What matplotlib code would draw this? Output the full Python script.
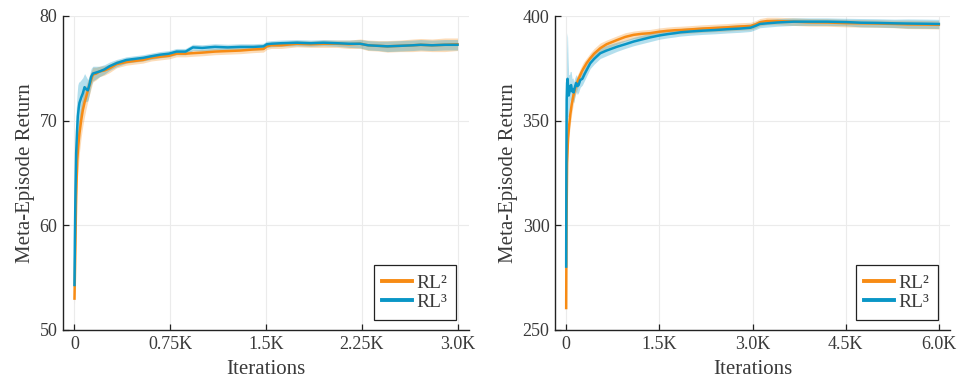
import matplotlib
matplotlib.use("Agg")
import matplotlib.pyplot as plt
import numpy as np

plt.rcParams['font.family'] = ['Liberation Serif', 'DejaVu Serif']

ORANGE = '#F78B14'
BLUE = '#0996C6'
TXT = '#3a3a3a'

# ---------------- Left panel data ----------------
left_xticks = [0, 750, 1500, 2250, 3000]
left_xticklabels = ['0', '0.75K', '1.5K', '2.25K', '3.0K']
left_yticks = [50, 60, 70, 80]

l_rl2_x = [0, 5, 13, 21, 31, 39, 52, 65, 80, 92, 105, 118, 131, 144, 170, 196, 235, 275, 330, 406,
           470, 537, 600, 668, 740, 799, 870, 927, 1000, 1100, 1200, 1300, 1400, 1480, 1506, 1540,
           1620, 1741, 1850, 1950, 2055, 2150, 2238, 2300, 2380, 2450, 2550, 2650, 2711, 2800, 2900, 3000]
l_rl2_y = [53.0, 56.5, 62.7, 66.2, 67.8, 68.8, 70.0, 71.0, 71.8, 72.3, 72.9, 73.4, 73.9, 74.4, 74.5, 74.7, 74.8, 75.0, 75.4, 75.6,
           75.7, 75.8, 76.0, 76.1, 76.2, 76.4, 76.4, 76.45, 76.5, 76.6, 76.65, 76.7, 76.8, 76.85, 77.1, 77.2,
           77.2, 77.35, 77.3, 77.35, 77.35, 77.3, 77.35, 77.2, 77.15, 77.1, 77.15, 77.2, 77.25, 77.2, 77.25, 77.3]
l_rl2_s = [0.5, 1.5, 2.0, 2.0, 2.0, 1.8, 1.6, 1.5, 1.3, 1.1, 1.0, 0.9, 0.8, 0.7, 0.6, 0.5, 0.45, 0.4, 0.35, 0.3,
           0.3, 0.3, 0.3, 0.3, 0.3, 0.3, 0.3, 0.3, 0.3, 0.3, 0.3, 0.3, 0.3, 0.3, 0.3, 0.3,
           0.3, 0.3, 0.3, 0.35, 0.35, 0.4, 0.45, 0.5, 0.5, 0.55, 0.55, 0.6, 0.6, 0.6, 0.65, 0.6]

l_rl3_x = [0, 3, 8, 13, 20, 26, 33, 39, 52, 65, 79, 92, 105, 118, 131, 144, 170, 196, 235, 275, 330, 406,
           470, 537, 600, 668, 740, 799, 870, 927, 1000, 1100, 1200, 1300, 1400, 1480, 1506, 1540, 1620,
           1741, 1850, 1950, 2055, 2150, 2238, 2300, 2380, 2450, 2550, 2650, 2711, 2800, 2900, 3000]
l_rl3_y = [54.3, 58.5, 63.5, 66.9, 69.0, 70.4, 71.2, 71.7, 72.2, 72.6, 73.2, 73.0, 72.9, 73.5, 74.2, 74.5, 74.6, 74.7, 74.9, 75.2, 75.5, 75.8,
           75.9, 76.0, 76.15, 76.3, 76.4, 76.6, 76.6, 77.0, 76.95, 77.05, 77.0, 77.05, 77.05, 77.1, 77.3, 77.35, 77.4,
           77.45, 77.4, 77.45, 77.4, 77.35, 77.35, 77.2, 77.15, 77.1, 77.15, 77.2, 77.25, 77.2, 77.25, 77.25]
l_rl3_s = [0.5, 2.0, 3.5, 4.0, 3.5, 3.0, 2.5, 2.0, 1.7, 1.5, 1.3, 1.2, 1.0, 0.9, 0.8, 0.7, 0.6, 0.5, 0.45, 0.4, 0.35, 0.3,
           0.3, 0.3, 0.3, 0.3, 0.3, 0.3, 0.3, 0.3, 0.3, 0.3, 0.3, 0.3, 0.3, 0.3, 0.3, 0.3, 0.3,
           0.3, 0.3, 0.3, 0.3, 0.35, 0.4, 0.45, 0.45, 0.5, 0.5, 0.5, 0.5, 0.5, 0.5, 0.5]

# ---------------- Right panel data ----------------
right_xticks = [0, 1500, 3000, 4500, 6000]
right_xticklabels = ['0', '1.5K', '3.0K', '4.5K', '6.0K']
right_yticks = [250, 300, 350, 400]

r_rl2_x = [0, 5, 15, 30, 45, 65, 90, 118, 145, 172, 200, 226, 253, 280, 330, 387, 450, 548, 650, 817,
           950, 1086, 1220, 1355, 1500, 1624, 1750, 1839, 2000, 2200, 2400, 2600, 2800, 2968, 3050, 3120,
           3234, 3400, 3661, 3900, 4200, 4500, 4742, 5000, 5280, 5500, 5800, 6000]
r_rl2_y = [260.5, 300, 330, 341.7, 347, 352.7, 358, 362.3, 365.5, 367.8, 370, 371.8, 373.5, 375, 377.5, 379.8, 382, 384.6, 386.5, 388.5,
           390, 391, 391.5, 391.8, 392.5, 392.9, 393.2, 393.3, 393.6, 394, 394.3, 394.6, 395, 395.2, 396, 397,
           397.6, 397.6, 397.3, 397.0, 396.9, 396.6, 396.5, 396.4, 396.2, 396.0, 395.9, 395.8]
r_rl2_s = [2.0, 6.0, 6.0, 5.5, 5.0, 5.0, 4.5, 4.0, 3.5, 3.5, 3.0, 3.0, 3.0, 3.0, 2.5, 2.5, 2.5, 2.5, 2.0, 2.0,
           2.0, 1.8, 1.8, 1.8, 1.8, 1.8, 1.8, 1.8, 1.8, 1.8, 1.8, 1.8, 1.8, 1.8, 1.8, 1.8,
           1.8, 1.8, 1.8, 1.8, 1.8, 1.8, 1.8, 1.8, 1.8, 2.0, 2.0, 2.0]

r_rl3_x = [0, 3, 8, 15, 22, 30, 40, 55, 65, 80, 95, 110, 120, 140, 160, 180, 200, 226, 260, 300, 387,
           450, 548, 650, 817, 950, 1086, 1220, 1355, 1500, 1624, 1750, 1839, 2000, 2200, 2400, 2600,
           2800, 2968, 3050, 3120, 3234, 3400, 3661, 3900, 4200, 4500, 4742, 5000, 5280, 5500, 5800, 6000]
r_rl3_y = [280.3, 330, 360, 368, 370, 366, 362, 364, 366.5, 367, 364, 365, 363.5, 366, 368, 366.5, 367, 369.4, 370, 372.5, 377.4,
           379.5, 382.2, 383.5, 385.3, 386.5, 387.8, 388.8, 389.8, 390.7, 391.3, 391.8, 392.2, 392.6, 393, 393.3, 393.7,
           394, 394.4, 395.3, 396.2, 396.5, 396.9, 397.3, 397.3, 397.3, 397.1, 396.8, 396.7, 396.5, 396.4, 396.3, 396.2]
r_rl3_s = [3.0, 15.0, 22.0, 24.0, 20.0, 14.0, 10.0, 8.0, 7.0, 6.5, 6.0, 5.5, 5.0, 4.5, 4.0, 4.0, 3.5, 3.5, 3.0, 3.0, 2.5,
           2.5, 2.5, 2.5, 2.2, 2.0, 2.0, 2.0, 2.0, 1.8, 1.8, 1.8, 1.8, 1.8, 1.8, 1.8, 1.8,
           1.8, 1.8, 1.8, 1.8, 1.8, 1.8, 1.8, 1.8, 1.8, 1.8, 2.0, 2.0, 2.0, 2.2, 2.2, 2.2]

fig = plt.figure(figsize=(9.61, 3.83), dpi=100)
ax1 = fig.add_axes([63/961, 53/383, 406/961, 314/383])
ax2 = fig.add_axes([555/961, 53/383, 395/961, 314/383])


def draw(ax, series, xlim, ylim, xticks, xticklabels, yticks, legx):
    for x, y, s, c, lab in series:
        x = np.asarray(x, float); y = np.asarray(y, float); s = np.asarray(s, float)
        ax.fill_between(x, y - s, y + s, color=c, alpha=0.3, lw=0)
    for x, y, s, c, lab in series:
        ax.plot(x, y, color=c, lw=1.8, label=lab)
    ax.set_xlim(*xlim)
    ax.set_ylim(*ylim)
    ax.set_xticks(xticks)
    ax.set_xticklabels(xticklabels)
    ax.set_yticks(yticks)
    ax.grid(True, color='#ebebeb', lw=0.8)
    ax.set_axisbelow(True)
    for sp in ['top', 'right']:
        ax.spines[sp].set_visible(False)
    for sp in ['left', 'bottom']:
        ax.spines[sp].set_color('#222222')
        ax.spines[sp].set_linewidth(1.0)
    ax.tick_params(direction='in', length=4, width=0.9, colors='#222222',
                   labelcolor=TXT, labelsize=13, pad=4)
    ax.set_xlabel('Iterations', fontsize=15, color=TXT, labelpad=5)
    ax.set_ylabel('Meta-Episode Return', fontsize=15, color=TXT, labelpad=3)
    leg = ax.legend(loc='lower right', bbox_to_anchor=(legx, 0.032), fontsize=14,
                    frameon=True, fancybox=False, edgecolor='#222222', framealpha=1,
                    handlelength=1.5, handletextpad=0.25, borderpad=0.45, labelspacing=0.1,
                    borderaxespad=0)
    leg.get_frame().set_linewidth(0.9)
    for t in leg.get_texts():
        t.set_color(TXT)
    for h in leg.get_lines():
        h.set_linewidth(2.8)


draw(ax1, [(l_rl2_x, l_rl2_y, l_rl2_s, ORANGE, 'RL²'),
           (l_rl3_x, l_rl3_y, l_rl3_s, BLUE, 'RL³')],
     (-90, 3090), (50, 80), left_xticks, left_xticklabels, left_yticks, 0.968)
draw(ax2, [(r_rl2_x, r_rl2_y, r_rl2_s, ORANGE, 'RL²'),
           (r_rl3_x, r_rl3_y, r_rl3_s, BLUE, 'RL³')],
     (-180, 6180), (250, 400), right_xticks, right_xticklabels, right_yticks, 0.97)

fig.savefig('out.png', dpi=100)
